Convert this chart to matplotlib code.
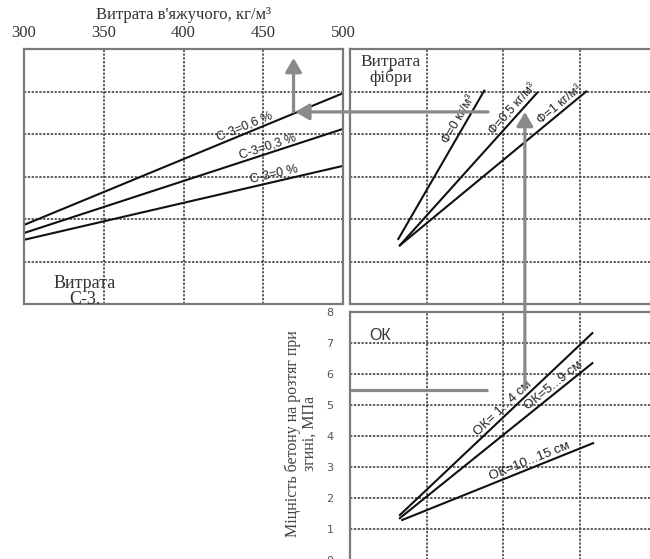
import numpy as np
import matplotlib
matplotlib.use('Agg')
import matplotlib.pyplot as plt
from matplotlib.patches import ConnectionPatch

# ---- data ----
binder_x = [300, 500]                       # кг/м3
binder_ticks = [300, 350, 400, 450, 500]
c3_labels = ['С-3=0,6 %', 'С-3=0,3 %', 'С-3=0 %']
c3_y = [[1.86, 4.96], [1.67, 4.12], [1.51, 3.25]]

fibre_labels = ['Ф=0 кг/м³', 'Ф=0,5 кг/м³', 'Ф=1 кг/м³']
fibre_x = [[0.63, 1.75], [0.65, 2.44], [0.65, 3.08]]
fibre_y = [[1.53, 5.02], [1.38, 4.97], [1.38, 5.00]]

ok_labels = ['ОК= 1...4 см', 'ОК=5...9 см', 'ОК=10...15 см']
ok_x = [[0.65, 3.16], [0.65, 3.16], [0.68, 3.17]]
ok_y = [[1.45, 7.32], [1.35, 6.35], [1.29, 3.77]]
strength_ticks = [0, 1, 2, 3, 4, 5, 6, 7, 8]

# example reading path (arrows)
strength_read = 5.5
ok_hit_x = 1.8
fibre_up_x = 2.28
top_y = 4.52
binder_read = 469
top_arrow_y = 5.79

W, H = 650, 559
SERIF = 'Liberation Serif'
SANS = 'Liberation Sans'
GRID = dict(color='#333333', linestyle=(0, (1.5, 1.0)), linewidth=1.1)
ARROW = '#8a8a8a'


def box(l, t, r, b):
    return [l / W, (H - b) / H, (r - l) / W, (b - t) / H]


def style(ax, spines_off=()):
    for name, sp in ax.spines.items():
        sp.set_color('#7a7a7a')
        sp.set_linewidth(1.6)
        if name in spines_off:
            sp.set_visible(False)
    ax.grid(True, **GRID)
    ax.set_axisbelow(True)


def line_label(ax, xs, ys, t, text, gap=2, **kw):
    p0 = ax.transData.transform((xs[0], ys[0]))
    p1 = ax.transData.transform((xs[1], ys[1]))
    d = p1 - p0
    ang = np.degrees(np.arctan2(d[1], d[0]))
    n = np.array([-d[1], d[0]]) / np.hypot(*d)
    p = p0 + t * d + n * gap
    xd, yd = ax.transData.inverted().transform(p)
    ax.text(xd, yd, text, rotation=ang, rotation_mode='anchor',
            ha='center', va='bottom', color='#222222', **kw)


fig = plt.figure(figsize=(W / 100, H / 100), dpi=100)

ax_tl = fig.add_axes(box(24, 49, 343, 304))
ax_tr = fig.add_axes(box(350, 49, 650, 304), sharey=ax_tl)
ax_br = fig.add_axes(box(350, 312, 650, 560), sharex=ax_tr)

# top-left: binder consumption
ax_tl.set_xlim(300, 500)
ax_tl.set_ylim(0, 6)
ax_tl.xaxis.tick_top()
ax_tl.set_xticks(binder_ticks)
ax_tl.set_yticks([1, 2, 3, 4, 5])
ax_tl.tick_params(axis='x', length=0, pad=6, labelsize=12, labelcolor='#333')
ax_tl.tick_params(axis='y', length=0, labelleft=False)
for lab in ax_tl.get_xticklabels():
    lab.set_family(SERIF)
ax_tl.set_xlabel("Витрата в'яжучого, кг/м³", family=SERIF, fontsize=12,
                 color='#333', labelpad=4)
ax_tl.xaxis.set_label_position('top')
style(ax_tl)
for ys in c3_y:
    ax_tl.plot(binder_x, ys, color='#111', lw=1.5)
ax_tl.text(0.19, 0.05, 'Витрата\nС-3.', transform=ax_tl.transAxes, ha='center',
           va='center', family=SERIF, fontsize=13, color='#333',
           linespacing=0.95, clip_on=True)

# top-right: fibre
ax_tr.set_xlim(0, 300 / 76.7)
ax_tr.set_xticks([1, 2, 3])
ax_tr.tick_params(length=0, labelleft=False, labelbottom=False)
style(ax_tr, spines_off=('right',))
for xs, ys in zip(fibre_x, fibre_y):
    ax_tr.plot(xs, ys, color='#111', lw=1.5)
ax_tr.text(0.135, 0.918, 'Витрата\nфібри', transform=ax_tr.transAxes,
           ha='center', va='center', family=SERIF, fontsize=12.5,
           color='#333', linespacing=0.95)

# bottom-right: strength
ax_br.set_ylim(0, 8)
ax_br.set_yticks(strength_ticks)
ax_br.tick_params(axis='x', length=0, labelbottom=False)
ax_br.tick_params(axis='y', length=0, pad=12, labelsize=8, labelcolor='#555')
style(ax_br, spines_off=('right', 'bottom'))
for xs, ys in zip(ok_x, ok_y):
    ax_br.plot(xs, ys, color='#111', lw=1.5)
ax_br.set_ylabel('Міцність бетону на розтяг при\nзгині, МПа', family=SERIF,
                 fontsize=11.5, color='#444', linespacing=1.05)
ax_br.yaxis.set_label_coords(-0.107, 0.51)
ax_br.text(0.065, 0.905, 'ОК', transform=ax_br.transAxes, ha='left',
           va='center', family=SANS, fontsize=11.5, color='#333')

# labels along lines
c3_t = [0.7, 0.77, 0.79]
for ys, lab, t in zip(c3_y, c3_labels, c3_t):
    line_label(ax_tl, binder_x, ys, t, lab, gap=1, family=SANS, fontsize=9)
fibre_t = [0.78, 0.86, 0.88]
for xs, ys, lab, t in zip(fibre_x, fibre_y, fibre_labels, fibre_t):
    line_label(ax_tr, xs, ys, t, lab, gap=1, family=SANS, fontsize=9)
ok_t = [0.56, 0.82, 0.68]
for xs, ys, lab, t in zip(ok_x, ok_y, ok_labels, ok_t):
    line_label(ax_br, xs, ys, t, lab, gap=1, family=SANS, fontsize=9.5)

# reading path arrows
ax_br.plot([0, ok_hit_x], [strength_read, strength_read], color=ARROW, lw=2.3,
           solid_capstyle='butt', clip_on=False)
astyle = '-|>,head_length=0.6,head_width=0.35'
con = ConnectionPatch(xyA=(fibre_up_x, strength_read), coordsA=ax_br.transData,
                      xyB=(fibre_up_x, top_y), coordsB=ax_tr.transData,
                      arrowstyle=astyle, mutation_scale=14, color=ARROW,
                      lw=2.3, shrinkA=0, shrinkB=0)
fig.add_artist(con)
con2 = ConnectionPatch(xyA=(ok_hit_x, top_y), coordsA=ax_tr.transData,
                       xyB=(binder_read + 1, top_y), coordsB=ax_tl.transData,
                       arrowstyle=astyle, mutation_scale=14, color=ARROW,
                       lw=2.3, shrinkA=0, shrinkB=0)
fig.add_artist(con2)
ax_tl.annotate('', xy=(binder_read, top_arrow_y), xytext=(binder_read, top_y),
               arrowprops=dict(arrowstyle=astyle, mutation_scale=14,
                               color=ARROW, lw=2.3, shrinkA=0, shrinkB=0))

fig.savefig('out.png', dpi=100)
